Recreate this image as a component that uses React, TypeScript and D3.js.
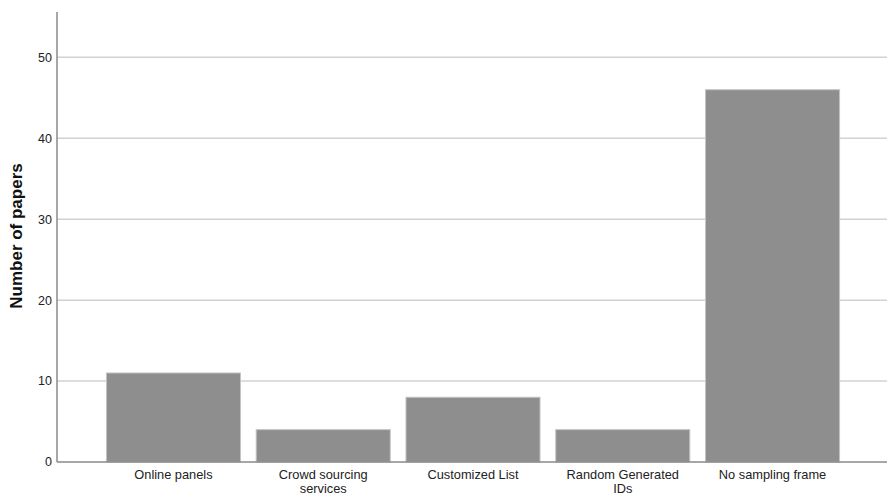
import React from "react";
import * as d3 from "d3";

const categories = ["Online panels", "Crowd sourcing services", "Customized List", "Random Generated IDs", "No sampling frame"];
const labelLines = [["Online panels"], ["Crowd sourcing", "services"], ["Customized List"], ["Random Generated", "IDs"], ["No sampling frame"]];
const values = [11, 4, 8, 4, 46];
const yTicks = [0, 10, 20, 30, 40, 50];

const W = 887;
const H = 496;

export default function App() {
  const x = d3.scaleBand<string>().domain(categories).range([57, 889]).paddingInner(0.105).paddingOuter(0.33);
  const y = d3.scaleLinear().domain([0, 55.6]).range([462, 12]);
  const font = "'Liberation Sans', Arial, sans-serif";
  return (
    <svg width={W} height={H} style={{ position: "absolute", left: 0, top: 0, background: "#fff" }} fontFamily={font}>
      {yTicks.filter((t) => t > 0).map((t) => (
        <line key={t} x1={57} x2={887} y1={y(t)} y2={y(t)} stroke="#d2d2d2" strokeWidth={1.5} />
      ))}
      {categories.map((c, i) => (
        <rect key={c} x={x(c)} y={y(values[i])} width={x.bandwidth()} height={y(0) - y(values[i])} fill="#8e8e8e" stroke="#c4c4c4" strokeWidth={1} />
      ))}
      <line x1={57} x2={57} y1={y(55.6)} y2={y(0)} stroke="#8a8a8a" strokeWidth={1.5} />
      <line x1={57} x2={887} y1={y(0)} y2={y(0)} stroke="#8a8a8a" strokeWidth={1.5} />
      {yTicks.map((t) => (
        <text key={t} x={52} y={y(t)} dy="0.35em" textAnchor="end" fontSize={12.5} fill="#222">{t}</text>
      ))}
      {categories.map((c, i) => (
        <text key={c} textAnchor="middle" fontSize={12.8} fill="#222">
          {labelLines[i].map((l, j) => (
            <tspan key={j} x={(x(c) ?? 0) + x.bandwidth() / 2} y={479 + j * 13.5}>{l}</tspan>
          ))}
        </text>
      ))}
      <text transform={`translate(22,236) rotate(-90)`} textAnchor="middle" fontSize={17} fontWeight="bold" fill="#111">Number of papers</text>
    </svg>
  );
}
